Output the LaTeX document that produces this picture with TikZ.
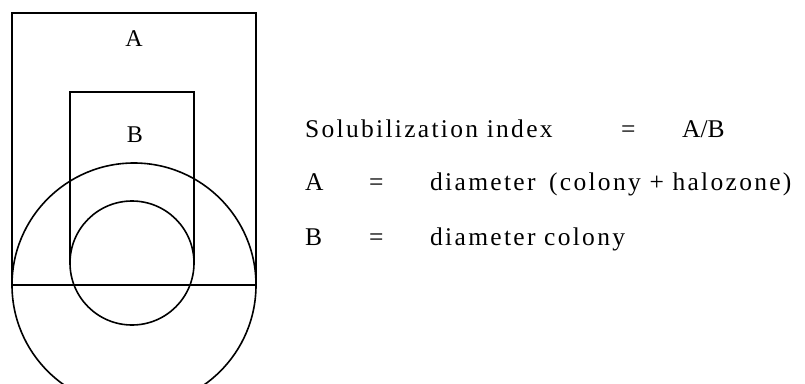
\documentclass[tikz,border=0pt]{standalone}
\usepackage{fontspec}
\setmainfont{Liberation Serif}
\newfontfamily\spaced[LetterSpace=9]{Liberation Serif}
\begin{document}
\begin{tikzpicture}[x=1pt,y=-1pt,
  frame/.style={line width=2pt},
  ring/.style={line width=1.6pt},
  lbl/.style={inner sep=0pt,font=\fontsize{24}{28}\selectfont},
  txt/.style={inner sep=0pt,anchor=base west,font=\fontsize{25.5}{30}\spaced}]
\useasboundingbox (0,0) rectangle (805,383);
\begin{scope}
\clip (0,0) rectangle (805,383);
% outer rectangle (A)
\coordinate (oTL) at (12,13);
\coordinate (oBR) at (256,285);
\draw[frame] (oTL) rectangle (oBR);
% inner open rectangle (B)
\draw[frame] (70,263) -- (70,92) -- (194,92) -- (194,263);
% circles
\coordinate (cBig) at (134,285);
\coordinate (cSmall) at (132,263);
\draw[ring] (cBig) circle[radius=122];
\draw[ring] (cSmall) circle[radius=62];
\end{scope}
\node[lbl] (la) at (134,39) {A};
\node[lbl] (lb) at (135,135) {B};
% legend
\node[txt] (t1) at (305,137) {Solubilization index};
\node[txt] (e1) at (621,137) {=};
\node[txt,font=\fontsize{25.5}{30}\selectfont] (r1) at (682,137) {A/B};
\node[txt] (t2) at (305,190) {A};
\node[txt] (e2) at (369,190) {=};
\node[txt] (r2) at (430,190) {diameter\hspace{5pt} (colony + halozone)};
\node[txt] (t3) at (305,245) {B};
\node[txt] (e3) at (369,245) {=};
\node[txt] (r3) at (430,245) {diameter colony};
\end{tikzpicture}
\end{document}
